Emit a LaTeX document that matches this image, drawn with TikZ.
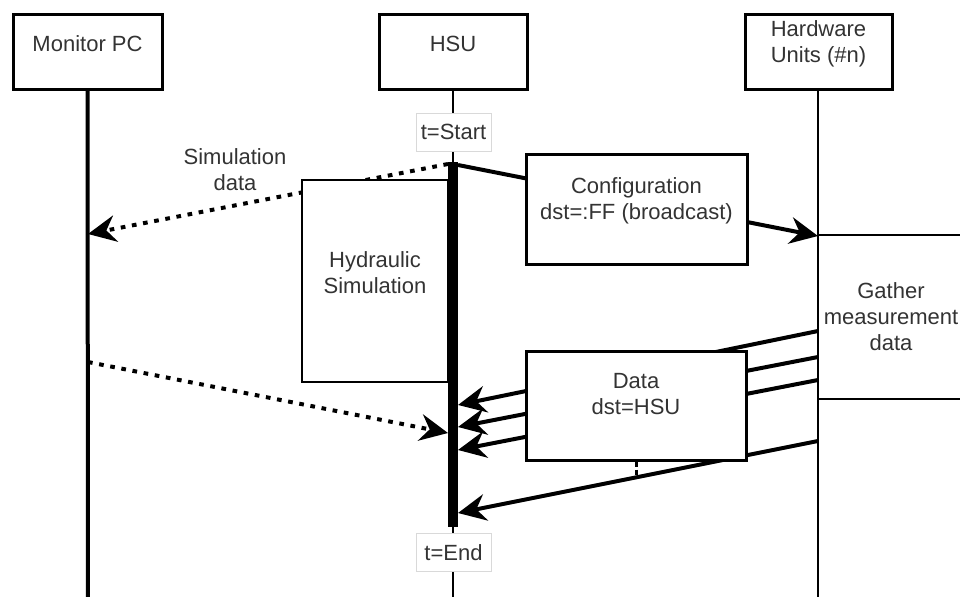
\documentclass[tikz,border=0pt]{standalone}
\usepackage{fontspec}
\setmainfont{Liberation Sans}
\usetikzlibrary{arrows.meta,fit}
\definecolor{txtgray}{HTML}{333333}
\begin{document}
\begin{tikzpicture}[x=0.75pt,y=-0.75pt,
  every node/.style={font=\fontsize{16.5}{19.5}\selectfont, text=txtgray},
  box/.style={draw, line width=2.25pt, fill=white, inner sep=0pt, align=center},
  thinbox/.style={box, line width=1.5pt},
  tlabel/.style={draw=black!15, line width=0.75pt, fill=white,
    minimum width=56.25pt, minimum height=28.5pt, inner sep=0pt},
  msg/.style={line width=3pt, -{Stealth[length=21pt,width=20pt,inset=7pt]}},
  dotmsg/.style={msg, dash pattern=on 3.5pt off 5pt},
  lifeline/.style={line width=1.5pt}
]
\useasboundingbox (0,0) rectangle (960,596);
\clip (0,0) rectangle (960,596);

% participants
\node[box, fit={(13,14) (162,89)}] (mon) {Monitor PC};
\node[box, fit={(379,14) (527,89)}] (hsu) {HSU};
\node[box, fit={(745,14) (892,89)}] (hw) {Hardware\\Units (\#n)};

% lifelines
\coordinate (monEnd) at (88,600);
\coordinate (hsuEnd) at (453,600);
\coordinate (hwEnd) at (818,600);
\draw[line width=3pt] (mon.south) -- (monEnd);
\draw[lifeline] (hsu.south) -- (hsuEnd);
\draw[lifeline] (hw.south -| hwEnd) -- (hwEnd);

% activation bar of the HSU
\node[fill=black, inner sep=0pt, fit={(448,162) (458,527)}] (bar) {};
\node[tlabel] (tstart) at (453.5,132) {t=Start};
\node[tlabel] (tend) at (453.5,552.5) {t=End};

% message end points
\coordinate (cfgS) at (458,165);
\coordinate (cfgE) at (818,236);
\coordinate (simS) at (448,164);
\coordinate (simE) at (88,234);
\coordinate (monS) at (88,362);
\coordinate (monE) at (448,433);
\coordinate (d1S) at (818,331);
\coordinate (d1E) at (458,405);
\coordinate (d2S) at (818,357);
\coordinate (d2E) at (458,427);
\coordinate (d3S) at (818,380);
\coordinate (d3E) at (458,450);
\coordinate (d4S) at (818,441);
\coordinate (d4E) at (458,513);

% messages
\draw[msg] (cfgS) -- (cfgE);
\draw[dotmsg] (simS) -- (simE);
\draw[dotmsg] (monS) -- (monE);
\draw[msg] (d1S) -- (d1E);
\draw[msg] (d2S) -- (d2E);
\draw[msg] (d3S) -- (d3E);
\draw[msg] (d4S) -- (d4E);

% activity and message boxes
\node[box, fit={(526,154) (747,264)}] (cfg) {Configuration\\dst=:FF (broadcast)};
\node[thinbox, fit={(302,180) (448,382)}] (hyd) {Hydraulic\\Simulation};
\node[box, fit={(526,351) (746,460)}] (data) {};
\node[align=center] (datatxt) at (636,394) {Data\\dst=HSU};
\node[thinbox, fit={(818,235) (966,399)}] (gather) {};
\node[align=center] (gathertxt) at (891,317) {Gather\\measurement\\data};

% label of the simulation data message
\node[align=center] (simlbl) at (235,170) {Simulation\\data};

% short dashed tick below the data box
\coordinate (tickE) at (636,477);
\draw[line width=2.25pt, dash pattern=on 4pt off 2pt] (data.south) -- (tickE);
\end{tikzpicture}
\end{document}
